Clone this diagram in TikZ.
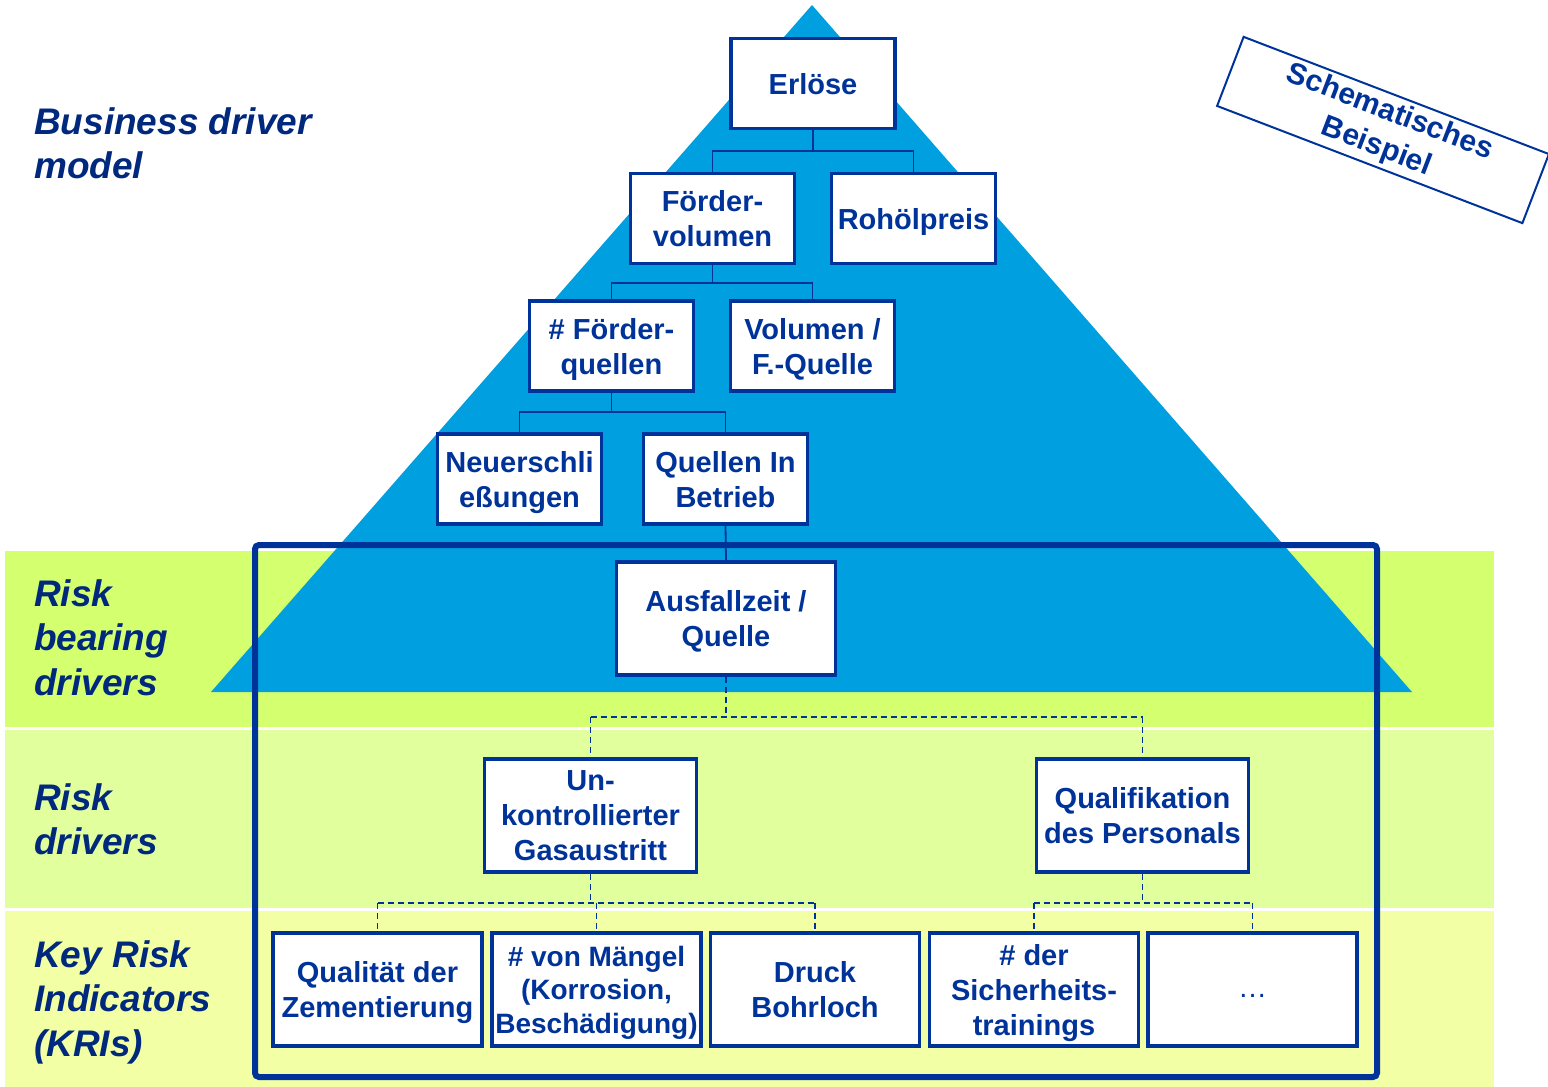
\documentclass[tikz,border=0pt]{standalone}
\usepackage{fontspec}
\setmainfont{Liberation Sans}
\definecolor{navy}{HTML}{003399}
\definecolor{lblue}{HTML}{00287D}
\definecolor{tri}{HTML}{00A0E0}
\definecolor{bandA}{HTML}{D4FF6E}
\definecolor{bandB}{HTML}{E2FF9E}
\definecolor{bandC}{HTML}{F2FFA4}
\begin{document}
\begin{tikzpicture}[x=1pt,y=-1pt,
 box/.style={draw=navy,line width=3.5pt,fill=white,text=navy,font=\fontsize{29}{35}\selectfont\bfseries,align=center,inner sep=0pt,text depth=0pt},
 sbox/.style={box,minimum width=164pt,minimum height=90pt},
 lbox/.style={box,minimum width=212pt,minimum height=113pt},
 kbox/.style={box,minimum width=209pt,minimum height=113pt},
 conn/.style={draw=navy,line width=1.8pt},
 dconn/.style={conn,dash pattern=on 6pt off 4pt},
 lab/.style={text=lblue,font=\fontsize{37}{44.5}\selectfont\bfseries\itshape,align=left,inner sep=0pt,anchor=north west}]
\useasboundingbox (0,0) rectangle (1548,1087);
% bands
\fill[bandA] (5,551) rectangle (1494,727);
\fill[bandB] (5,730) rectangle (1494,908);
\fill[bandC] (5,911) rectangle (1494,1087);
% pyramid
\fill[tri] (812,5) -- (211,692) -- (1412,692) -- cycle;
% frame
\draw[navy,line width=6pt,rounded corners=4pt] (255,545) rectangle (1377,1077);
% labels
\node[lab] (bdm) at (34,107) {Business driver\\model};
\node[lab] (rbd) at (34,579) {Risk\\bearing\\drivers};
\node[lab] (rd) at (34,783) {Risk\\drivers};
\node[lab] (kri) at (34,940) {Key Risk\\Indicators\\(KRIs)};
% boxes
\node[sbox] (erl) at (813,83.5) {Erlöse};
\node[sbox] (foe) at (712.5,218.5) {Förder-\\volumen};
\node[sbox] (roh) at (913.5,218.5) {Rohölpreis};
\node[sbox] (fq) at (611.5,346) {\# Förder-\\quellen};
\node[sbox] (vol) at (812.5,346) {Volumen /\\F.-Quelle};
\node[sbox] (neu) at (519.5,479) {Neuerschli\\eßungen};
\node[sbox] (qib) at (725.5,479) {Quellen In\\Betrieb};
\node[box,minimum width=219pt,minimum height=113pt] (aus) at (726,618.5) {Ausfallzeit /\\Quelle};
\node[lbox] (unk) at (590.5,815.5) {Un-\\kontrollierter\\Gasaustritt};
\node[lbox] (qua) at (1142.5,815.5) {Qualifikation\\des Personals};
\node[kbox] (k1) at (377.5,989.5) {Qualität der\\Zementierung};
\node[kbox,font=\fontsize{28}{33.5}\selectfont\bfseries] (k2) at (596.5,989.5) {\# von Mängel\\(Korrosion,\\Beschädigung)};
\node[kbox] (k3) at (815,989.5) {Druck\\Bohrloch};
\node[kbox] (k4) at (1034,989.5) {\# der\\Sicherheits-\\trainings};
\node[kbox,font=\fontsize{29}{35}\selectfont] (k5) at (1252.5,989.5) {\raisebox{-8pt}{…}};
% solid connectors
\draw[conn] (erl.south) -- ++(0,21) coordinate (c1);
\draw[conn] (foe.north) |- (c1) -| (roh.north);
\draw[conn] (foe.south) -- ++(0,18) coordinate (c2);
\draw[conn] (fq.north) |- (c2) -| (vol.north);
\draw[conn] (fq.south) -- ++(0,19) coordinate (c3);
\draw[conn] (neu.north) |- (c3) -| (qib.north);
\draw[conn] (qib.south) -- (aus.north);
% dashed connectors
\draw[dconn] (aus.south) -- ++(0,40) coordinate (d1);
\draw[dconn] (unk.north |- d1) -- (qua.north |- d1);
\draw[dconn] (unk.north |- d1) -- (unk.north);
\draw[dconn] (qua.north |- d1) -- (qua.north);
\draw[dconn] (unk.south) -- ++(0,29) coordinate (d2);
\draw[dconn] (k1.north |- d2) -- (k3.north |- d2);
\draw[dconn] (k1.north |- d2) -- (k1.north);
\draw[dconn] (k2.north |- d2) -- (k2.north);
\draw[dconn] (k3.north |- d2) -- (k3.north);
\draw[dconn] (qua.south) -- ++(0,29) coordinate (d3);
\draw[dconn] (k4.north |- d3) -- (k5.north |- d3);
\draw[dconn] (k4.north |- d3) -- (k4.north);
\draw[dconn] (k5.north |- d3) -- (k5.north);
% stamp
\node[draw=navy,line width=2pt,rotate=-21,minimum width=327pt,minimum height=74pt,text=navy,font=\fontsize{30}{37}\selectfont\bfseries,align=center,inner sep=0pt] (sb) at (1383,130) {Schematisches\\Beispiel};
\end{tikzpicture}
\end{document}
